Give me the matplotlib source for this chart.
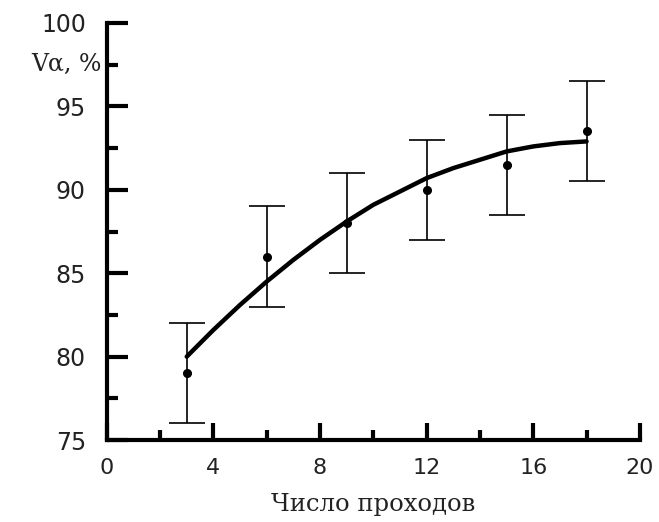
import numpy as np
import matplotlib
matplotlib.use("Agg")
import matplotlib.pyplot as plt
from matplotlib.ticker import MultipleLocator
import matplotlib.transforms as mtransforms

# измеренные точки (число проходов, Vα %, погрешность)
passes = [3, 6, 9, 12, 15, 18]
v_alpha = [79.0, 86.0, 88.0, 90.0, 91.5, 93.5]
v_err = [3.0, 3.0, 3.0, 3.0, 3.0, 3.0]

# аппроксимирующая кривая
curve_x = [3, 4, 5, 6, 7, 8, 9, 10, 11, 12, 13, 14, 15, 16, 17, 18]
curve_y = [80.0, 81.6, 83.1, 84.5, 85.8, 87.0, 88.1, 89.1, 89.9, 90.7,
           91.3, 91.8, 92.3, 92.6, 92.8, 92.9]

fig = plt.figure(figsize=(6.59, 5.22), dpi=100)
ax = fig.add_axes([0.162, 0.157, 0.809, 0.799])

ax.plot(curve_x, curve_y, color="black", lw=3.2, solid_capstyle="round")
ax.errorbar(passes, v_alpha, yerr=v_err, fmt="o", color="black",
            ms=5.5, elinewidth=1.2, capsize=13, capthick=1.2)

ax.set_xlim(0, 20)
ax.set_ylim(75, 100)
ax.xaxis.set_major_locator(MultipleLocator(4))
ax.xaxis.set_minor_locator(MultipleLocator(2))
ax.yaxis.set_major_locator(MultipleLocator(5))
ax.yaxis.set_minor_locator(MultipleLocator(2.5))

for side in ["top", "right"]:
    ax.spines[side].set_visible(False)
for side in ["left", "bottom"]:
    ax.spines[side].set_linewidth(3)

ax.tick_params(axis="both", which="both", direction="in", width=3,
               colors="black", labelcolor="#222222")
ax.tick_params(axis="y", which="major", length=15, pad=15, labelsize=17)
ax.tick_params(axis="y", which="minor", length=8)
ax.tick_params(axis="x", which="major", length=12, pad=13, labelsize=16)
ax.tick_params(axis="x", which="minor", length=7)
for lab in ax.get_xticklabels() + ax.get_yticklabels():
    lab.set_family("DejaVu Sans")

trans = mtransforms.blended_transform_factory(ax.transAxes, ax.transData)
ax.text(-0.01, 97.5, "V\u03b1, %", transform=trans, ha="right", va="center",
        fontsize=17, family="DejaVu Serif", color="#222222")
ax.set_xlabel("Число проходов", fontsize=17.5, family="DejaVu Serif",
              labelpad=11, color="#222222")

fig.savefig("out.png", dpi=100)
